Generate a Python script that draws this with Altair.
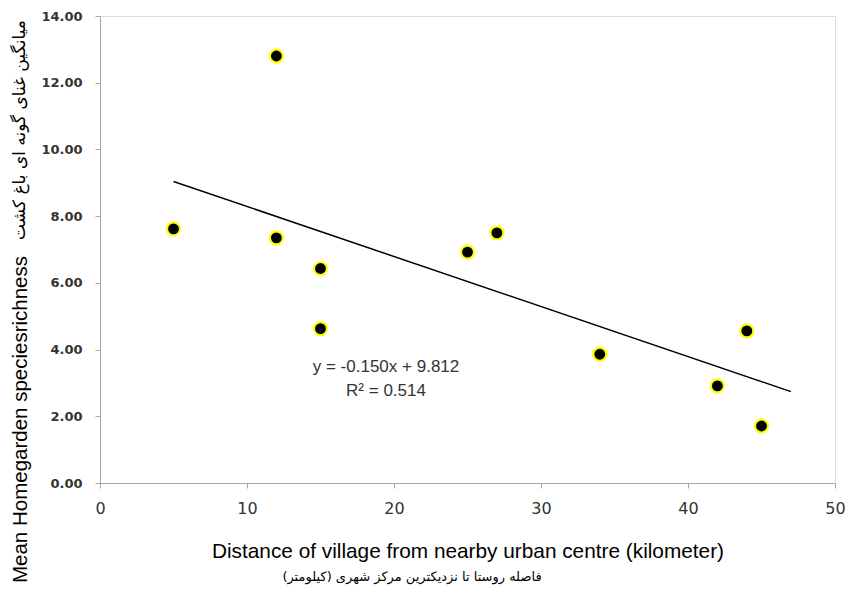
import altair as alt
import pandas as pd

# Distance of village from nearby urban centre (km)
distance = [5, 12, 12, 15, 15, 25, 27, 34, 42, 44, 45]
# Mean homegarden species richness
richness = [7.62, 12.80, 7.35, 6.43, 4.63, 6.92, 7.50, 3.86, 2.91, 4.56, 1.71]

equation_lines = ["y = -0.150x + 9.812", "R² = 0.514"]
x_title_en = "Distance of village from nearby urban centre (kilometer)"
x_title_fa = "فاصله روستا تا نزدیکترین مرکز شهری (کیلومتر)"
y_title_en = "Mean Homegarden speciesrichness"
y_title_fa = "میانگین غنای گونه ای باغ کشت"

df = pd.DataFrame({"distance": distance, "richness": richness})

x_enc = alt.X(
    "distance:Q",
    scale=alt.Scale(domain=[0, 50], nice=False, zero=False),
    axis=alt.Axis(
        values=[0, 10, 20, 30, 40, 50],
        grid=False,
        labelFlush=False,
        domainColor="#A6A6A6",
        tickColor="#A6A6A6",
        tickSize=5,
        labelFont="DejaVu Sans",
        labelFontSize=16,
        labelColor="#333333",
        labelPadding=12,
        title=x_title_en,
        titleFont="Liberation Sans",
        titleFontSize=20.8,
        titleFontWeight="normal",
        titleColor="#000000",
        titleY=68,
        titleBaseline="middle",
    ),
)
y_enc = alt.Y(
    "richness:Q",
    scale=alt.Scale(domain=[0, 14], nice=False, zero=False),
    axis=alt.Axis(
        values=[0, 2, 4, 6, 8, 10, 12, 14],
        format=".2f",
        grid=False,
        domainColor="#A6A6A6",
        tickColor="#A6A6A6",
        tickSize=5,
        labelFont="DejaVu Sans",
        labelFontWeight="bold",
        labelFontSize=13,
        labelColor="#333333",
        labelPadding=13,
        title=y_title_en,
        titleFont="Liberation Sans",
        titleFontSize=20.5,
        titleFontWeight="normal",
        titleColor="#000000",
        titleAngle=270,
        titleX=-80,
        titleY=403,
        titleAlign="center",
        titleBaseline="middle",
    ),
)

base = alt.Chart(df)

trend = base.transform_regression(
    "distance", "richness", method="linear", extent=[5, 47]
).mark_line(color="#000000", strokeWidth=1.5).encode(x=x_enc, y=y_enc)

points = base.mark_point(
    filled=True, shape="circle", size=170, fill="#000000", stroke="#FFFF00",
    strokeWidth=2.2, opacity=1
).encode(x=x_enc, y=y_enc)

eq = alt.Chart(pd.DataFrame({"t": [0]})).mark_text(
    font="Liberation Sans", fontSize=17, color="#333333", lineHeight=24,
    align="center", baseline="middle"
).encode(x=alt.value(286), y=alt.value(351), text=alt.value(equation_lines))

fa_x = alt.Chart(pd.DataFrame({"t": [0]})).mark_text(
    font="DejaVu Sans", fontSize=13, color="#000000",
    align="center", baseline="middle"
).encode(x=alt.value(312), y=alt.value(561), text=alt.value(x_title_fa))

fa_y = alt.Chart(pd.DataFrame({"t": [0]})).mark_text(
    font="DejaVu Sans", fontSize=17, color="#000000", angle=270,
    align="center", baseline="middle"
).encode(x=alt.value(-80), y=alt.value(114), text=alt.value(y_title_fa))

chart = alt.layer(trend, points, eq, fa_x, fa_y).properties(
    width=735,
    height=467,
    autosize=alt.AutoSizeParams(type="none"),
    padding={"left": 92, "top": 8, "right": 10, "bottom": 106},
).configure_view(stroke=None).configure(background="#FFFFFF")

chart.save("out.html", embed_options={"renderer": "svg", "actions": False})
